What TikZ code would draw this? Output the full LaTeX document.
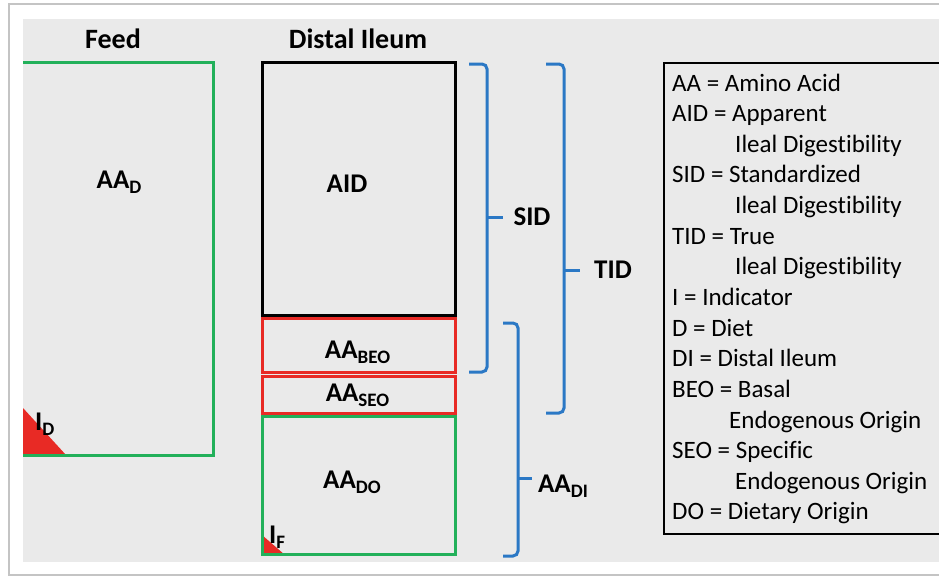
\documentclass[tikz,border=0pt]{standalone}
\usepackage{fontspec}
\setmainfont{Carlito}[Ligatures=NoCommon]

% subscript set in a smaller bold size, dropped below the baseline
\newcommand\lowsub[1]{\raisebox{-5pt}{\fontsize{19}{19}\selectfont\bfseries #1}}

\definecolor{panelgray}{HTML}{EAEAEA}
\definecolor{framegray}{HTML}{C4C4C4}
\definecolor{feedgreen}{HTML}{22B05A}
\definecolor{boxred}{HTML}{E82A25}
\definecolor{bracketblue}{HTML}{2B78C5}

\tikzset{
  region/.style={draw, line width=3pt, inner sep=0pt, fill=none},
  title/.style={font=\fontsize{28}{28}\selectfont\bfseries, inner sep=0pt, anchor=base},
  tag/.style={font=\fontsize{27}{27}\selectfont\bfseries, inner sep=0pt, anchor=base},
  legendline/.style={font=\fontsize{25}{25}\selectfont, inner sep=0pt, anchor=base west},
  bracket/.style={draw=bracketblue, line width=3pt, rounded corners=5pt},
  marker/.style={fill=boxred, draw=none}
}

\begin{document}
\begin{tikzpicture}[x=1pt, y=-1pt]
\useasboundingbox (0,0) rectangle (939,576);
\fill[white] (0,0) rectangle (939,576);
\draw[framegray, line width=1.2pt] (941,4) -- (9,4) -- (9,575) -- (941,575);
\fill[panelgray] (23,19) rectangle (941,562);

% Feed column
\fill[marker] (23,408) -- (23,455) -- (66,455) -- cycle;
\draw[feedgreen, line width=3pt] (23,62) -- (213,62) -- (213,455) -- (23,455);
\node[title] (feed) at (113,48) {Feed};
\node[tag] (aad) at (119,188) {AA\lowsub{D}};
\node[tag, anchor=base west] (id) at (35,430) {I\lowsub{D}};

% Distal ileum column
\node[title] (ileum) at (358,48) {Distal Ileum};
\node[region, draw=black, minimum width=193pt, minimum height=253pt] (aid) at (358.5,188.5) {};
\node[region, draw=boxred, minimum width=193pt, minimum height=54pt] (beo) at (358.5,345) {};
\node[region, draw=boxred, minimum width=193pt, minimum height=37pt] (seo) at (358.5,394.5) {};
\fill[marker] (262,535) -- (262,555) -- (285,555) -- cycle;
\node[region, draw=feedgreen, minimum width=193pt, minimum height=138pt] (do) at (358.5,485.5) {};

\node[tag] (aidtxt) at (347,192) {AID};
\node[tag] (beotxt) at (357.5,358) {AA\lowsub{BEO}};
\node[tag] (seotxt) at (357.5,401) {AA\lowsub{SEO}};
\node[tag] (dotxt) at (352,488) {AA\lowsub{DO}};
\node[tag, anchor=base west] (if) at (269,543) {I\lowsub{F}};

% Brackets
\draw[bracket] (469,64) -- (487,64) -- (487,372) -- (469,372);
\draw[bracket] (487,217) -- (503,217);
\node[tag] (sid) at (532,225) {SID};

\draw[bracket] (546,64) -- (564,64) -- (564,413) -- (546,413);
\draw[bracket] (564,270) -- (580,270);
\node[tag] (tid) at (613,278) {TID};

\draw[bracket] (503,323) -- (518,323) -- (518,556) -- (503,556);
\draw[bracket] (518,478) -- (532,478);
\node[tag] (aadi) at (563,492) {AA\lowsub{DI}};

% Legend
\draw[black, line width=2.4pt] (943,63) -- (664,63) -- (664,534) -- (943,534);
\foreach \i/\x/\t in {
  0/672/{AA = Amino Acid},
  1/672/{AID = Apparent},
  2/735/{Ileal Digestibility},
  3/672/{SID = Standardized},
  4/735/{Ileal Digestibility},
  5/672/{TID = True},
  6/735/{Ileal Digestibility},
  7/672/{I = Indicator},
  8/672/{D = Diet},
  9/672/{DI = Distal Ileum},
  10/672/{BEO = Basal},
  11/729/{Endogenous Origin},
  12/672/{SEO = Specific},
  13/735/{Endogenous Origin},
  14/672/{DO = Dietary Origin}}
  \node[legendline] (leg\i) at (\x,{91+\i*30.64}) {\t};
\end{tikzpicture}
\end{document}
